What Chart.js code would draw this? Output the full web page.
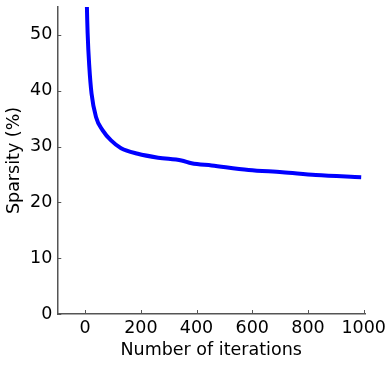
<!DOCTYPE html>
<html>
<head>
<meta charset="utf-8">
<script src="https://cdn.jsdelivr.net/npm/chart.js@4/dist/chart.umd.min.js"></script>
<style>
  html, body { margin: 0; padding: 0; background: #fff; }
  #wrap { width: 390px; height: 365px; }
</style>
</head>
<body>
<div id="wrap"><canvas id="sparsityChart"></canvas></div>
<script>
// values
const iterations = [2, 6, 9, 15, 23, 39, 63, 93, 129, 189, 262, 346, 382, 454, 587, 708, 828, 991];
const sparsity = [70, 56, 50.3, 44.3, 39.5, 35.3, 32.9, 31.1, 29.7, 28.7, 28.0, 27.5, 27.0, 26.6, 25.8, 25.4, 24.9, 24.5];
const xTicks = [0, 200, 400, 600, 800, 1000];
const yTicks = [0, 10, 20, 30, 40, 50];

const font = { family: 'DejaVu Sans', size: 17.5 };

// small inward tick marks, like old matplotlib defaults
const inwardTicks = {
    id: 'inwardTicks',
    afterDraw(chart) {
        const ctx = chart.ctx;
        const xs = chart.scales.x, ys = chart.scales.y;
        ctx.save();
        ctx.strokeStyle = '#555';
        ctx.lineWidth = 1;
        xTicks.forEach(v => {
            const px = Math.round(xs.getPixelForValue(v)) + 0.5;
            ctx.beginPath();
            ctx.moveTo(px, ys.bottom);
            ctx.lineTo(px, ys.bottom - 4);
            ctx.stroke();
        });
        yTicks.forEach(v => {
            const py = Math.round(ys.getPixelForValue(v)) + 0.5;
            ctx.beginPath();
            ctx.moveTo(xs.left, py);
            ctx.lineTo(xs.left + 4, py);
            ctx.stroke();
        });
        ctx.restore();
    }
};

const sparsityCtx = document.getElementById('sparsityChart').getContext('2d');
const sparsityChart = new Chart(sparsityCtx, {
    type: 'line',
    data: {
        datasets: [{
            data: iterations.map((it, i) => ({ x: it, y: sparsity[i] })),
            borderColor: '#0000ff',
            borderWidth: 4,
            pointRadius: 0,
            cubicInterpolationMode: 'monotone',
            fill: false
        }]
    },
    options: {
        responsive: true,
        maintainAspectRatio: false,
        animation: false,
        layout: { padding: { top: 0, right: 8, left: 4, bottom: 4 } },
        plugins: { legend: { display: false }, tooltip: { enabled: false } },
        scales: {
            x: {
                type: 'linear',
                min: -100,
                max: 1005,
                afterBuildTicks: s => { s.ticks = xTicks.map(v => ({ value: v })); },
                grid: { drawOnChartArea: false, drawTicks: false },
                border: { color: '#555', width: 1.5 },
                ticks: { color: '#000', font: font, padding: 4, maxRotation: 0, callback: v => String(v) },
                title: { display: true, text: 'Number of iterations', color: '#000', font: font, padding: { top: -3, bottom: 0 } }
            },
            y: {
                min: 0,
                max: 55,
                afterBuildTicks: s => { s.ticks = yTicks.map(v => ({ value: v })); },
                afterFit: s => { s.paddingTop = 7; },
                grid: { drawOnChartArea: false, drawTicks: false },
                border: { color: '#555', width: 1.5 },
                ticks: { color: '#000', font: font, padding: 5, callback: v => String(v) },
                title: { display: true, text: 'Sparsity (%)', color: '#000', font: font, padding: { top: 0, bottom: 0 } }
            }
        }
    },
    plugins: [inwardTicks]
});
</script>
</body>
</html>
